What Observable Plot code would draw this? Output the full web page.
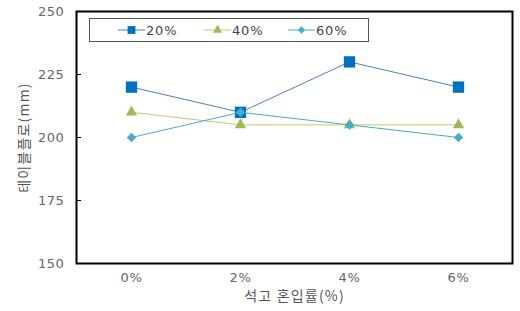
<!DOCTYPE html>
<html><head><meta charset="utf-8">
<script src="https://cdn.jsdelivr.net/npm/d3@7"></script>
<script src="https://cdn.jsdelivr.net/npm/@observablehq/plot@0.6"></script>
<style>
body{margin:0;background:#fff;font-family:"Noto Sans CJK KR","DejaVu Sans",sans-serif;}
#wrap{position:relative;width:520px;height:311px;}
#legend{position:absolute;left:89px;top:18px;width:278px;height:22px;border:1px solid #555;background:#fff;box-sizing:content-box;}
.item{position:absolute;top:0;height:22px;display:flex;align-items:center;font-size:13px;color:#444;letter-spacing:0.8px;font-family:"DejaVu Sans",sans-serif;}
.spaced text{letter-spacing:1.2px;}
.ticklbl text{letter-spacing:0.6px;}
</style></head>
<body><div id="wrap"><div id="legend"></div></div>
<script>
const categories = ["0%", "2%", "4%", "6%"];
const seriesNames = ["20%", "40%", "60%"];
const values20 = [220, 210, 230, 220];
const values40 = [210, 205, 205, 205];
const values60 = [200, 210, 205, 200];
const yTicks = [150, 175, 200, 225, 250];
const markerColors = ["#0070C0", "#9BBB59", "#4BACC6"];
const lineColors = ["#4F81BD", "#C3C96A", "#4BACC6"];
const symbols = ["square", "triangle", "diamond2"];
const radii = [6.4, 4.2, 4.3];

const allValues = [values20, values40, values60];
const data = [];
seriesNames.forEach((s, i) => categories.forEach((c, j) => data.push({series: s, cat: c, value: allValues[i][j]})));

const marks = [
  Plot.frame({stroke: "#000", strokeWidth: 2}),
  Plot.axisY({ticks: yTicks, tickSize: -5, tickPadding: 17, fontSize: 13, color: "#666", stroke: "#000", label: null, className: "ticklbl"}),
  Plot.axisX({tickSize: 0, tickPadding: 9, fontSize: 13, color: "#666", label: null, className: "ticklbl"})
];
seriesNames.forEach((s, i) => {
  const d = data.filter(r => r.series === s);
  marks.push(Plot.line(d, {x: "cat", y: "value", stroke: lineColors[i], strokeWidth: 1}));
  marks.push(Plot.dot(d, {x: "cat", y: "value", symbol: () => symbols[i], fill: markerColors[i], r: radii[i], stroke: "none"}));
});

const chart = Plot.plot({
  width: 520, height: 311,
  marginLeft: 76, marginRight: 8, marginTop: 11, marginBottom: 48,
  style: {fontFamily: "DejaVu Sans, sans-serif", background: "transparent"},
  x: {type: "point", domain: categories, padding: 0.5},
  y: {domain: [150, 250]},
  symbol: {type: "identity"},
  marks: [
    ...marks,
    Plot.text(["석고 혼입률(%)"], {frameAnchor: "bottom", dy: 37, fontSize: 14, fill: "#555", fontFamily: "Noto Sans CJK KR", className: "spaced"}),
    Plot.text(["테이블플로(mm)"], {frameAnchor: "left", dx: -52, textAnchor: "middle", rotate: -90, fontSize: 14, fill: "#555", fontFamily: "Noto Sans CJK KR", className: "spaced"})
  ]
});
document.getElementById("wrap").prepend(chart);

const legend = document.getElementById("legend");
const legendX = [28, 114, 198];
const legendRadii = [4.4, 3.4, 3.4];
seriesNames.forEach((s, i) => {
  const it = document.createElement("div");
  it.className = "item";
  it.style.left = legendX[i] + "px";
  const sym = d3.symbol(i === 0 ? d3.symbolSquare : i === 1 ? d3.symbolTriangle : d3.symbolDiamond2, Math.PI * legendRadii[i] * legendRadii[i])();
  it.innerHTML = `<svg width="27" height="14" viewBox="0 0 27 14"><line x1="0" x2="27" y1="7" y2="7" stroke="${lineColors[i]}" stroke-width="1"/><path d="${sym}" transform="translate(13.5,7)" fill="${markerColors[i]}"/></svg><span style="margin-left:1px">${s}</span>`;
  legend.appendChild(it);
});
</script></body></html>
